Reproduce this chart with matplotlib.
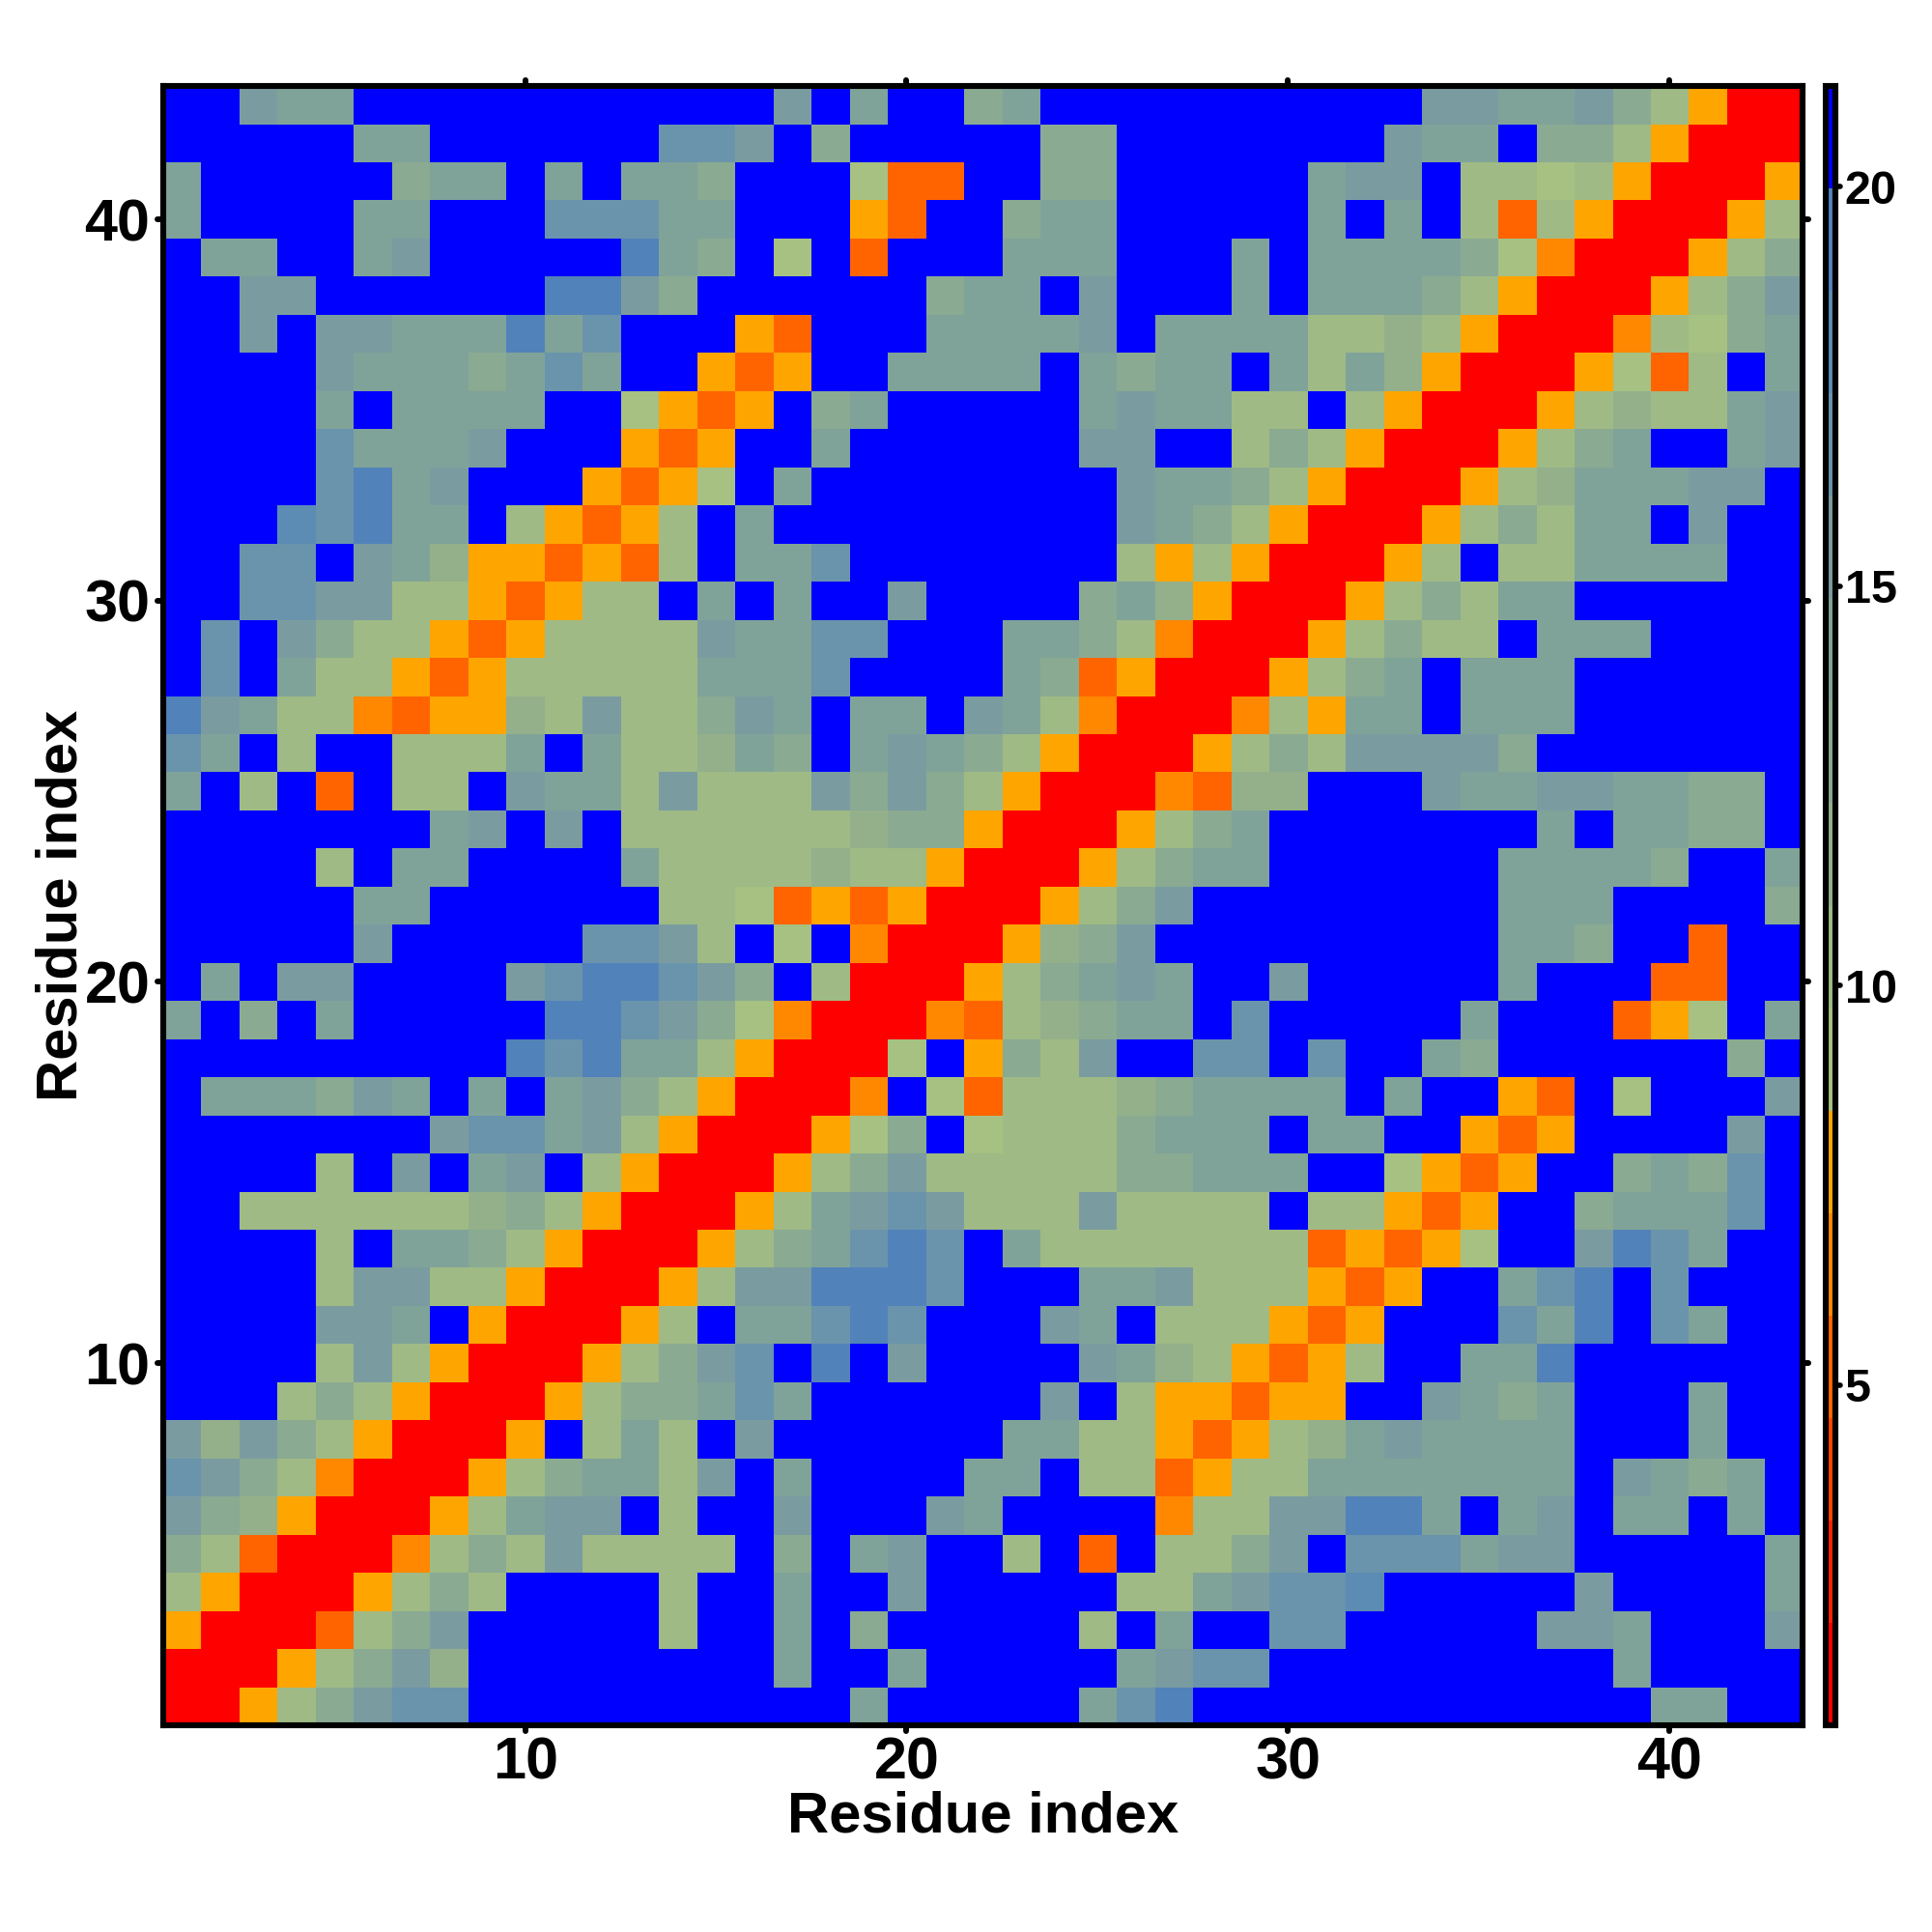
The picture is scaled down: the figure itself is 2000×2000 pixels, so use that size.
import numpy as np
import matplotlib
matplotlib.use("Agg")
import matplotlib.pyplot as plt
from matplotlib.colors import ListedColormap, BoundaryNorm
from matplotlib.markers import MarkerStyle, TICKDOWN, TICKUP, TICKLEFT, TICKRIGHT

plt.rcParams['font.family'] = ['Liberation Sans', 'DejaVu Sans']
plt.rcParams['font.weight'] = 'bold'

# Colour-level code of every cell (hex digit, one per residue, x = 1..43).
# Rows 1-14 only list x = 1..15; the rest mirrors the symmetric matrix.
rows_low = [
    "00579BCCFFFFFFF",  # y=1
    "000579B8FFFFFFF",
    "5000379BFFFFF7F",
    "750005797FFFF7F",
    "9730004797B7777",
    "B98500057ABBF7F",
    "CB974000579AA7B",
    "B8B9750005F7A7F",
    "FFF79750005799A",
    "FFFF7B75000579B",
    "FFFFBBAF500057F",
    "FFFF7BB77500057",
    "FFFF7FAA9750005",
    "FF7777778975000",  # y=14
]
rows_high = [
    "FFFF7FBFABF75000579B7777799AAAFF6535FF9A9CF",  # y=15
    "FFFFFFFBCCAB75000569F67779AAAFAAFF535FFFFBF",
    "FAAA9BAFAFAB9750004F6377789AAAAFAFF53F6FFFB",
    "FFFFFFFFFECEAA750006F597BFFCCFCFFA9FFFFFF9F",
    "AF9FAFFFFFEECB96400043789AAFCFFFFFAFFF356FA",
    "FAFBBFFFFBCEECB9F7000579ABAFFBFFFFFAFFF33FF",
    "FFFFFBFFFFFCCB7F6F4000589BFFFFFFFFFAA9FF3FF",
    "FFFFFAAFFFFFF7763535000579BFFFFFFFFAAAFFFF9",
    "FFFF7FAAFFFFA77778775000579AAFFFFFFAAAA9FFA",
    "FFFFFFFABFBF7777778995000579AFFFFFFFAFAA99F",
    "AF7F3F77FBAA7B777B9B9750004388FFFBAABBAA99F",
    "CAF7FF777AFA778A9FABA9750005797BBBB9FFFFFFF",
    "EBA77435587B779BAFAAFBA74000475AAFAAAFFFFFF",
    "FCFA7753577777AAACFFFFA935000579AFAAAFFFFFF",
    "FCFB9775357777BAACCFFFAA97400057977FAAAFFFF",
    "FFCCBB7753577FAFAFFBFFFF9A850005797AAFFFFFF",
    "FFCCFBA8553537FAACFFFFFFF757500057F77AAAAFF",
    "FFFDCEAAF75357FAFFFFFFFFFBA9750005797AAFBFF",
    "FFFFCEABFFF5356FAFFFFFFFFBAA975000578AAABBF",
    "FFFFCAAABFFF535FFAFFFFFFBBFF7975000579AFFAB",
    "FFFFAFAAAAFF6535F9AFFFFFABAA77F7500057877AB",
    "FFFFBAAA9ACAFF535FFAAAAFA9AAFA7A850005637FA",
    "FFBFBBAAAEACFFF53FFFAAAABFAAAA778750004769A",
    "FFBBFFFFFFEEB9FFFFFF9AAFBFFFAFAAA975000579B",
    "FAAFFABFFFFFEA9F6F3FFFAAAFFFAFAAAA964000579",
    "AFFFFAAFFFCCCAAFFF53FF9AAFFFFFAFAF737500057",
    "AFFFFF9AAFAFAA9FFF633FF99FFFFFABBF776750005",
    "FFFFFAAFFFFFFCCBF9FFFFF99FFFFFFFBAAF9975000",
    "FFBAAFFFFFFFFFFFBFAFF9AFFFFFFFFFFBBAAB97500",  # y=43
]
level_colors = ["#FF0000", "#FF2200", "#FF4400", "#FF6400", "#FF8800", "#FFA500",
                "#A6C182", "#9FBA85", "#94B08B", "#8AAA92", "#80A399", "#7A9CA1",
                "#6A94AC", "#5C8BB4", "#5282BA", "#0000FF"]
tick_values = [10, 20, 30, 40]
cbar_ticks = [5, 10, 15, 20]
axis_label = "Residue index"
v_min, v_max = 0.744, 21.26

n = 43
levels = np.zeros((n, n), dtype=int)
for j, r in enumerate(rows_high):
    assert len(r) == n, (j + 15, len(r))
    levels[j + 14, :] = [int(c, 16) for c in r]
for j, r in enumerate(rows_low):
    assert len(r) == 15, (j + 1, len(r))
    levels[j, :15] = [int(c, 16) for c in r]
    levels[j, 15:] = levels[15:, j]

step = (v_max - v_min) / 16
dist = v_min + (levels + 0.5) * step
bounds = v_min + np.arange(17) * step
cmap = ListedColormap(level_colors)
norm = BoundaryNorm(bounds, 16)

W = 2000.0
fig = plt.figure(figsize=(20, 20), dpi=100, facecolor='white')


def box(x0, x1, y0, y1):
    return [x0 / W, 1 - y1 / W, (x1 - x0) / W, (y1 - y0) / W]


ax = fig.add_axes(box(168.6, 1866.2, 89, 1786))
im = ax.imshow(dist, origin='lower', extent=(0.5, n + 0.5, 0.5, n + 0.5),
               cmap=cmap, norm=norm, aspect='auto', interpolation='nearest')
ax.set_xlim(0.5, n + 0.5)
ax.set_ylim(0.5, n + 0.5)
ax.set_xticks(tick_values)
ax.set_yticks(tick_values)
ax.tick_params(axis='both', direction='out', top=True, right=True, length=4.5, width=4.3, color='black')
ax.tick_params(axis='x', labelsize=44, pad=4)
ax.tick_params(axis='y', labelsize=44, pad=5)
for s in ax.spines.values():
    s.set_linewidth(4.4)


def round_ticks(axis, low, high):
    for t in axis.get_major_ticks():
        t.tick1line.set_marker(MarkerStyle(low, capstyle='round'))
        t.tick2line.set_marker(MarkerStyle(high, capstyle='round'))


round_ticks(ax.xaxis, TICKDOWN, TICKUP)
round_ticks(ax.yaxis, TICKLEFT, TICKRIGHT)

ax.set_xlabel(axis_label, fontsize=43, fontweight='bold')
ax.set_ylabel(axis_label, fontsize=43, fontweight='bold')
ax.xaxis.set_label_coords(0.5, 1 - (1881 - 89) / 1697, transform=ax.transAxes)
ax.xaxis.label.set_verticalalignment('center')
ax.yaxis.set_label_coords((64 - 168.6) / 1697.6, 0.5, transform=ax.transAxes)
ax.yaxis.label.set_verticalalignment('center')

cax = fig.add_axes(box(1889.5, 1900.5, 89, 1786))
cb = fig.colorbar(im, cax=cax, spacing='proportional', drawedges=False)
cb.set_ticks(cbar_ticks)
cb.ax.minorticks_off()
cb.ax.tick_params(axis='y', direction='out', length=3.5, width=4.0, labelsize=35, pad=3, right=True, left=False)
cb.outline.set_linewidth(4.4)
for t in cb.ax.yaxis.get_major_ticks():
    t.tick2line.set_marker(MarkerStyle(TICKRIGHT, capstyle='round'))

fig.savefig('out.png', dpi=100, facecolor='white')
